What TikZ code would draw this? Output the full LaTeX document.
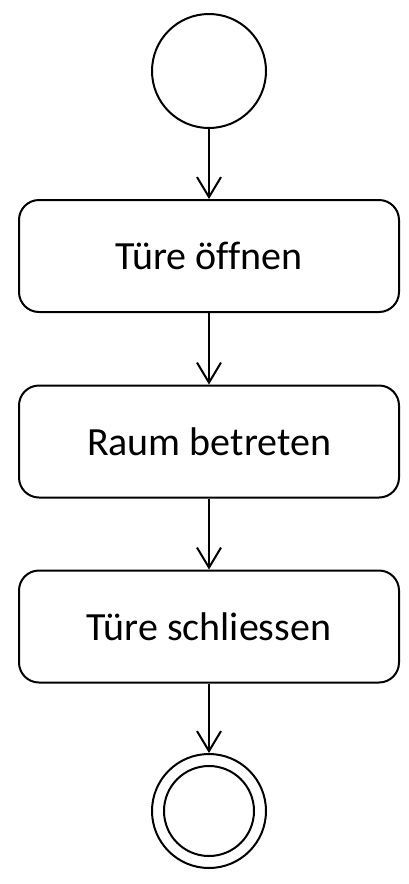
\documentclass[tikz,border=0pt]{standalone}
\usepackage{fontspec}
\setmainfont{Carlito}[Ligatures=CommonOff]
\usetikzlibrary{arrows.meta}
\begin{document}
\begin{tikzpicture}[x=1pt,y=-1pt,
  act/.style={draw, line width=2pt, rounded corners=20pt, minimum width=380pt, minimum height=112pt, inner sep=0pt, font=\fontsize{40}{46}\selectfont},
  state/.style={draw, circle, line width=2pt, inner sep=0pt},
  flow/.style={draw, line width=2pt, -{Straight Barb[length=20pt,width=24pt]}}]
\useasboundingbox (0,0) rectangle (408,884);
\node[state, minimum size=114pt] (start) at (209,71) {};
\node[act] (a1) at (209,256) {Türe öffnen};
\node[act] (a2) at (209,441.5) {Raum betreten};
\node[act] (a3) at (209,626.5) {Türe schliessen};
\node[state, minimum size=114pt] (end) at (209,811) {};
\node[state, minimum size=90pt] (endin) at (end) {};
\draw[flow] (start) -- (a1);
\draw[flow] (a1) -- (a2);
\draw[flow] (a2) -- (a3);
\draw[flow] (a3) -- (end);
\end{tikzpicture}
\end{document}
